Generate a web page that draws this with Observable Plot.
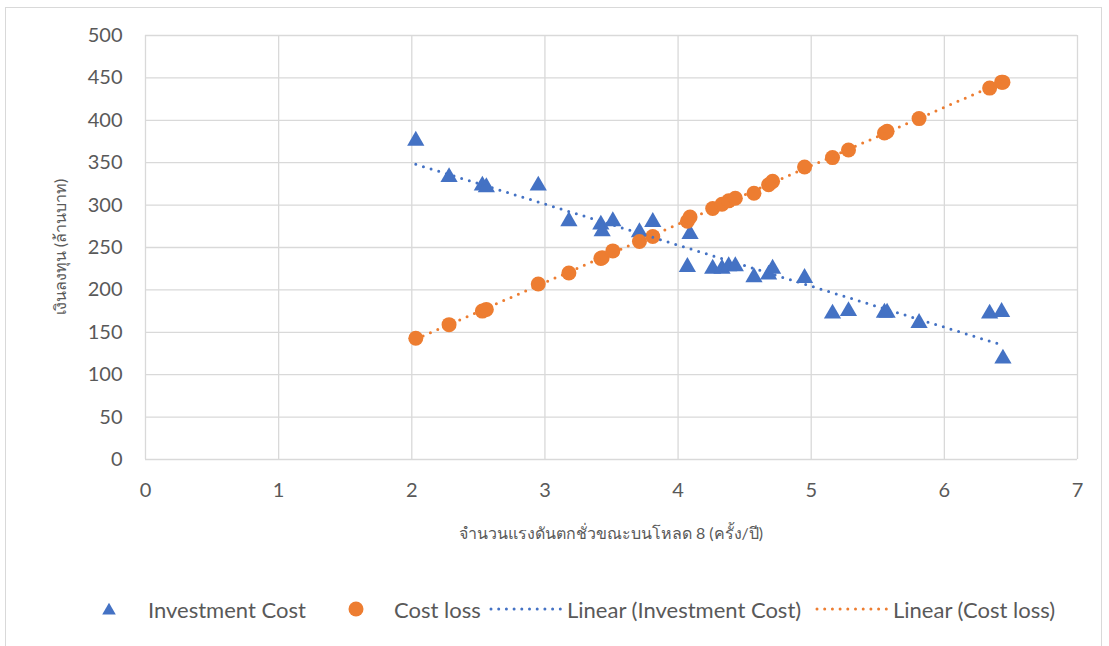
<!DOCTYPE html>
<html>
<head>
<meta charset="utf-8">
<script src="https://cdn.jsdelivr.net/npm/d3@7"></script>
<script src="https://cdn.jsdelivr.net/npm/@observablehq/plot@0.6"></script>
<style>
  body { margin: 0; background: #fff; width: 1109px; height: 646px; overflow: hidden; font-family: Lato, "Noto Sans", sans-serif; }
  #frame { position: absolute; left: 5px; top: 7px; width: 1097px; height: 660px; border: 1px solid #d9d9d9; box-sizing: border-box; }
  #chart { position: absolute; left: 0; top: 0; }
  .title { position: absolute; color: #595959; font-size: 16px; white-space: nowrap; }
  #ytitle { left: 60px; top: 247px; transform: translate(-50%, -50%) rotate(-90deg); }
  #xtitle { left: 611px; top: 533px; transform: translate(-50%, -50%); }
  #legend { position: absolute; top: 0; left: 0; width: 1109px; height: 646px; color: #595959; font-size: 22px; }
  #legend .part { position: absolute; top: 595px; height: 28px; display: flex; align-items: center; white-space: nowrap; }
  #legend svg { display: block; }
</style>
</head>
<body>
<div id="frame"></div>
<div id="chart"></div>
<div class="title" id="ytitle">เงินลงทุน (ล้านบาท)</div>
<div class="title" id="xtitle">จำนวนแรงดันตกชั่วขณะบนโหลด 8 (ครั้ง/ปี)</div>
<div id="legend"></div>
<script>
// Voltage sags per year at load 8 (x) against two cost series (million baht)
const sags = [2.03, 2.28, 2.53, 2.56, 2.95, 3.18, 3.42, 3.43, 3.51, 3.71, 3.81, 4.07, 4.09, 4.26, 4.33,
              4.38, 4.43, 4.57, 4.68, 4.71, 4.95, 5.16, 5.28, 5.55, 5.57, 5.81, 6.34, 6.43, 6.44];
const investmentCost = [376, 333, 323, 321, 323, 281, 277, 269, 281, 268, 280, 227, 266, 225, 225,
                        228, 228, 215, 218, 225, 214, 172, 175, 173, 173, 161, 172, 174, 119];
const costLoss = [143, 159, 175, 177, 207, 220, 237, 238, 246, 257, 263, 281, 286, 296, 301,
                  305, 308, 314, 324, 328, 345, 356, 365, 385, 387, 402, 438, 445, 445];
const xTicks = [0, 1, 2, 3, 4, 5, 6, 7];
const yTicks = [0, 50, 100, 150, 200, 250, 300, 350, 400, 450, 500];
const seriesNames = ["Investment Cost", "Cost loss", "Linear (Investment Cost)", "Linear (Cost loss)"];

const blue = "#4472C4";
const orange = "#ED7D31";
const grid = "#d9d9d9";

const investRows = sags.map((x, i) => ({x, y: investmentCost[i]}));
const lossRows = sags.map((x, i) => ({x, y: costLoss[i]}));

const dotted = {strokeWidth: 3, strokeDasharray: "0 8", strokeLinecap: "round", ci: 0};

const chart = Plot.plot({
  width: 1109,
  height: 560,
  marginLeft: 145,
  marginRight: 32,
  marginTop: 35,
  marginBottom: 101,
  style: {fontFamily: "Lato, 'Noto Sans', sans-serif", fontSize: "20px", color: "#595959", background: "transparent"},
  x: {domain: [0, 7]},
  y: {domain: [0, 500]},
  marks: [
    Plot.ruleX(xTicks, {stroke: grid, strokeWidth: 1.3, strokeOpacity: 1}),
    Plot.ruleY(yTicks, {stroke: grid, strokeWidth: 1.3, strokeOpacity: 1}),
    Plot.axisX({ticks: xTicks, tickFormat: d3.format("d"), tickSize: 0, tickPadding: 23, label: null, fill: "#595959"}),
    Plot.axisY({ticks: yTicks, tickFormat: d3.format("d"), tickSize: 0, tickPadding: 23, label: null, fill: "#595959"}),
    Plot.dot(investRows, {x: "x", y: "y", symbol: "triangle", r: 6.4, fill: blue, stroke: null}),
    Plot.dot(lossRows, {x: "x", y: "y", symbol: "circle", r: 7.5, fill: orange, stroke: null}),
    Plot.linearRegressionY(investRows, {x: "x", y: "y", stroke: blue, ...dotted}),
    Plot.linearRegressionY(lossRows, {x: "x", y: "y", stroke: orange, ...dotted})
  ]
});
document.getElementById("chart").appendChild(chart);

// Legend row: swatches and labels placed along one line
const legend = document.getElementById("legend");
const ns = "http://www.w3.org/2000/svg";
function swatch(kind, color) {
  const svg = document.createElementNS(ns, "svg");
  if (kind === "line") {
    svg.setAttribute("width", 74); svg.setAttribute("height", 20);
    const l = document.createElementNS(ns, "line");
    l.setAttribute("x1", 2); l.setAttribute("x2", 72); l.setAttribute("y1", 10); l.setAttribute("y2", 10);
    l.setAttribute("stroke", color); l.setAttribute("stroke-width", 3);
    l.setAttribute("stroke-dasharray", "0 7.7"); l.setAttribute("stroke-linecap", "round");
    svg.appendChild(l);
  } else {
    svg.setAttribute("width", 20); svg.setAttribute("height", 20);
    const p = document.createElementNS(ns, "path");
    const sym = kind === "triangle" ? d3.symbolTriangle : d3.symbolCircle;
    const size = kind === "triangle" ? 80 : Math.PI * 7.5 * 7.5;
    p.setAttribute("d", d3.symbol(sym, size)());
    p.setAttribute("transform", kind === "triangle" ? "translate(10,11.5)" : "translate(10,10)");
    p.setAttribute("fill", color);
    svg.appendChild(p);
  }
  return svg;
}
function place(node, left) {
  const div = document.createElement("div");
  div.className = "part";
  div.style.left = left + "px";
  div.appendChild(node);
  legend.appendChild(div);
}
function label(text) {
  const span = document.createElement("span");
  span.textContent = text;
  return span;
}
place(swatch("triangle", blue), 99);
place(label(seriesNames[0]), 148);
place(swatch("circle", orange), 346);
place(label(seriesNames[1]), 394);
place(swatch("line", blue), 489);
place(label(seriesNames[2]), 567);
place(swatch("line", orange), 815);
place(label(seriesNames[3]), 893);
</script>
</body>
</html>
